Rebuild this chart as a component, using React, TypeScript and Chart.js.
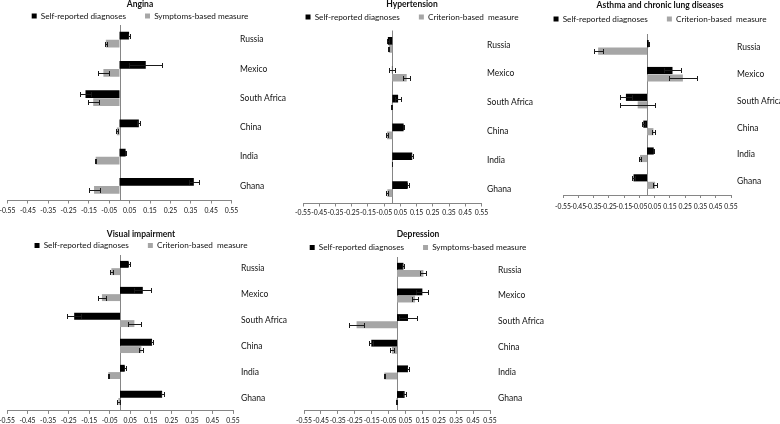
import React, { useEffect, useRef } from "react";
import { Chart, registerables } from "chart.js";

Chart.register(...registerables);

// ---------- data ----------
const categories = ["Russia", "Mexico", "South Africa", "China", "India", "Ghana"];
const xMin = -0.55;
const xMax = 0.55;
const xStep = 0.1;

const selfLabel = "Self-reported diagnoses";
const symptomsLabel = "Symptoms-based measure";
const criterionLabel = "Criterion-based  measure";

const anginaSelf = [0.047, 0.129, -0.167, 0.095, 0.03, 0.365];
const anginaSelfErr = [0.005, 0.08, 0.025, 0.007, 0.004, 0.023];
const anginaSymptoms = [-0.067, -0.079, -0.129, -0.013, -0.117, -0.125];
const anginaSymptomsErr = [0.006, 0.029, 0.028, 0.006, 0.004, 0.027];

const hyperSelf = [-0.027, -0.002, 0.036, 0.07, 0.123, 0.095];
const hyperSelfErr = [0.004, 0.019, 0.017, 0.004, 0.005, 0.006];
const hyperCriterion = [-0.021, 0.089, -0.003, -0.032, -0.002, -0.03];
const hyperCriterionErr = [0.003, 0.02, 0.003, 0.005, 0.002, 0.006];

const asthmaSelf = [0.011, 0.167, -0.138, -0.024, 0.044, -0.088];
const asthmaSelfErr = [0.004, 0.055, 0.04, 0.01, 0.004, 0.01];
const asthmaCriterion = [-0.32, 0.235, -0.061, 0.042, -0.046, 0.053];
const asthmaCriterionErr = [0.029, 0.091, 0.113, 0.01, 0.008, 0.011];

const visualSelf = [0.042, 0.111, -0.223, 0.156, 0.023, 0.205];
const visualSelfErr = [0.005, 0.042, 0.033, 0.005, 0.004, 0.007];
const visualCriterion = [-0.042, -0.088, 0.07, 0.104, -0.057, -0.008];
const visualCriterionErr = [0.006, 0.02, 0.03, 0.01, 0.003, 0.008];

const deprSelf = [0.038, 0.15, 0.065, -0.152, 0.065, 0.045];
const deprSelfErr = [0.006, 0.035, 0.053, 0.011, 0.004, 0.01];
const deprSymptoms = [0.156, 0.107, -0.239, -0.03, -0.075, -0.005];
const deprSymptomsErr = [0.018, 0.02, 0.043, 0.012, 0.003, 0.003];

// ---------- styles ----------
const FONT = "Lato, 'Liberation Sans', sans-serif";
const BLACK = "#000000";
const GREY = "#A6A6A6";
const AXIS = "#868686";
const TEXT = "#111111";
const TITLE_SIZE = 8.5;
const LEGEND_SIZE = 8.2;
const LEGEND_BOX = 5;
const TICK_SIZE = 6.8;
const CAT_SIZE = 8.5;
const LEGEND_GAP = 19;

type Layout = {
  center: number; width: number; top: number; height: number;
  plotLeft: number; plotRight: number; plotTop: number; plotBottom: number;
  titleY: number; legendY: number; tickY: number; catX: number;
};

type PanelDef = {
  title: string;
  labels: [string, string];
  a: number[]; aErr: number[]; b: number[]; bErr: number[];
  layout: Layout;
};

const panels: PanelDef[] = [
  {
    title: "Angina", labels: [selfLabel, symptomsLabel],
    a: anginaSelf, aErr: anginaSelfErr, b: anginaSymptoms, bErr: anginaSymptomsErr,
    layout: { center: 140, width: 304, top: 0, height: 216, plotLeft: 7.5, plotRight: 231.5, plotTop: 25, plotBottom: 200.5, titleY: 4.5, legendY: 16, tickY: 210.5, catX: 240 },
  },
  {
    title: "Hypertension", labels: [selfLabel, criterionLabel],
    a: hyperSelf, aErr: hyperSelfErr, b: hyperCriterion, bErr: hyperCriterionErr,
    layout: { center: 412, width: 290, top: 0, height: 216, plotLeft: 303, plotRight: 481.5, plotTop: 30.5, plotBottom: 203.5, titleY: 4.5, legendY: 17, tickY: 212.5, catX: 487 },
  },
  {
    title: "Asthma and chronic lung diseases", labels: [selfLabel, criterionLabel],
    a: asthmaSelf, aErr: asthmaSelfErr, b: asthmaCriterion, bErr: asthmaCriterionErr,
    layout: { center: 660, width: 280, top: 0, height: 216, plotLeft: 563, plotRight: 731, plotTop: 34, plotBottom: 195, titleY: 5, legendY: 19, tickY: 206.5, catX: 737 },
  },
  {
    title: "Visual impairment", labels: [selfLabel, criterionLabel],
    a: visualSelf, aErr: visualSelfErr, b: visualCriterion, bErr: visualCriterionErr,
    layout: { center: 141, width: 304, top: 216, height: 208, plotLeft: 7, plotRight: 233, plotTop: 255, plotBottom: 411, titleY: 234, legendY: 245.5, tickY: 421, catX: 241 },
  },
  {
    title: "Depression", labels: [selfLabel, symptomsLabel],
    a: deprSelf, aErr: deprSelfErr, b: deprSymptoms, bErr: deprSymptomsErr,
    layout: { center: 418, width: 290, top: 216, height: 208, plotLeft: 304, plotRight: 490, plotTop: 257, plotBottom: 411, titleY: 234, legendY: 247.5, tickY: 421, catX: 498 },
  },
];

const zeroLinePlugin = {
  id: "zeroLine",
  beforeDatasetsDraw(chart: any) {
    const { ctx, chartArea } = chart;
    const x = Math.round(chart.scales.x.getPixelForValue(0)) + 0.5;
    ctx.save();
    ctx.strokeStyle = AXIS;
    ctx.lineWidth = 1;
    ctx.beginPath();
    ctx.moveTo(x, chartArea.top);
    ctx.lineTo(x, chartArea.bottom);
    ctx.stroke();
    ctx.restore();
  },
};

function makeErrorPlugin(errs: number[][]) {
  return {
    id: "errorBars",
    afterDatasetsDraw(chart: any) {
      const { ctx } = chart;
      const xs = chart.scales.x;
      chart.data.datasets.forEach((ds: any, di: number) => {
        const meta = chart.getDatasetMeta(di);
        meta.data.forEach((el: any, i: number) => {
          const v = ds.data[i] as number;
          const e = errs[di][i];
          const x1 = Math.round(xs.getPixelForValue(v - e)) + 0.5;
          const x2 = Math.round(xs.getPixelForValue(v + e)) + 0.5;
          const y = Math.round(el.y) + 0.5;
          const cap = 2.5;
          ctx.save();
          ctx.strokeStyle = "#1a1a1a";
          ctx.lineWidth = 1;
          ctx.beginPath();
          ctx.moveTo(x1, y);
          ctx.lineTo(x2, y);
          ctx.moveTo(x1, y - cap);
          ctx.lineTo(x1, y + cap);
          ctx.moveTo(x2, y - cap);
          ctx.lineTo(x2, y + cap);
          ctx.stroke();
          ctx.restore();
        });
      });
    },
  };
}

function canvasLeft(L: Layout) {
  return L.center - L.width / 2;
}

function buildConfig(def: PanelDef): any {
  const L = def.layout;
  const c = canvasLeft(L), t = L.top, W = L.width, H = L.height;
  const leftW = L.plotLeft - c;
  const wy = c + W - L.plotRight;
  const lhT = TITLE_SIZE * 1.2;
  const ih = Math.max(LEGEND_SIZE, LEGEND_BOX);
  const legTop = L.legendY - t - LEGEND_GAP - ih / 2;
  const pt = legTop;
  const tp = L.titleY - t - lhT / 2 - pt;
  const tb = -lhT - tp;
  const A = L.plotTop - t;
  const mNat = ih + LEGEND_GAP + 10;
  const M = Math.min(mNat, A - legTop);
  const G = Math.max(0, A - legTop - M);
  const hx = t + H - L.plotBottom;
  const tickPad = L.tickY - L.plotBottom - 3 - (TICK_SIZE * 1.2) / 2;
  const catPad = L.catX - L.plotRight;

  return {
    type: "bar",
    data: {
      labels: categories,
      datasets: [
        { label: def.labels[0], data: def.a, backgroundColor: BLACK, borderWidth: 0, categoryPercentage: 0.56, barPercentage: 0.95, xAxisID: "x", yAxisID: "y" },
        { label: def.labels[1], data: def.b, backgroundColor: GREY, borderWidth: 0, categoryPercentage: 0.56, barPercentage: 0.95, xAxisID: "x", yAxisID: "y" },
      ],
    },
    options: {
      indexAxis: "y",
      responsive: false,
      animation: false,
      devicePixelRatio: 1,
      layout: { padding: { left: 0, right: 0, top: pt, bottom: 0 } },
      plugins: {
        title: {
          display: true, text: def.title, color: TEXT,
          font: { family: FONT, size: TITLE_SIZE, weight: "bold", lineHeight: 1.2 },
          padding: { top: tp, bottom: tb },
        },
        legend: {
          display: true, position: "top", maxHeight: M,
          labels: { boxWidth: LEGEND_BOX, boxHeight: LEGEND_BOX, padding: LEGEND_GAP, color: TEXT, font: { family: FONT, size: LEGEND_SIZE } },
        },
        tooltip: { enabled: false },
      },
      scales: {
        x: {
          type: "linear", position: "bottom", min: xMin, max: xMax,
          ticks: {
            stepSize: xStep, autoSkip: false, maxRotation: 0, minRotation: 0, maxTicksLimit: 30,
            padding: tickPad, color: TEXT, font: { family: FONT, size: TICK_SIZE },
            callback: (v: any) => Number(v).toFixed(2),
          },
          grid: { display: true, drawOnChartArea: false, drawTicks: true, tickLength: 3, color: AXIS, lineWidth: 1 },
          border: { display: true, color: AXIS, width: 1 },
          afterFit: (s: any) => { s.height = hx; },
        },
        xt: {
          type: "linear", axis: "x", position: "top", min: 0, max: 1, display: G > 0.01,
          ticks: { display: false }, grid: { display: false, drawTicks: false }, border: { display: false },
          afterFit: (s: any) => { s.height = G; },
        },
        y: {
          type: "category", position: "right",
          grid: { display: false, drawTicks: false }, border: { display: false },
          ticks: { padding: catPad, color: TEXT, autoSkip: false, font: { family: FONT, size: CAT_SIZE } },
          afterFit: (s: any) => { s.width = wy; },
        },
        yl: {
          type: "linear", axis: "y", position: "left", min: 0, max: 1,
          ticks: { display: false }, grid: { display: false, drawTicks: false }, border: { display: false },
          afterFit: (s: any) => { s.width = leftW; },
        },
      },
    },
    plugins: [zeroLinePlugin, makeErrorPlugin([def.aErr, def.bErr])],
  };
}

function PanelChart({ def }: { def: PanelDef }) {
  const ref = useRef<HTMLCanvasElement | null>(null);
  useEffect(() => {
    if (!ref.current) return;
    const chart = new Chart(ref.current, buildConfig(def));
    return () => chart.destroy();
  }, [def]);
  const L = def.layout;
  return (
    <canvas
      ref={ref}
      width={L.width}
      height={L.height}
      style={{ position: "absolute", left: canvasLeft(L), top: L.top, width: L.width, height: L.height }}
    />
  );
}

export default function App() {
  return (
    <div style={{ position: "fixed", left: 0, top: 0, width: 780, height: 424, background: "#ffffff", overflow: "hidden" }}>
      {panels.map((p) => (
        <PanelChart key={p.title} def={p} />
      ))}
    </div>
  );
}
